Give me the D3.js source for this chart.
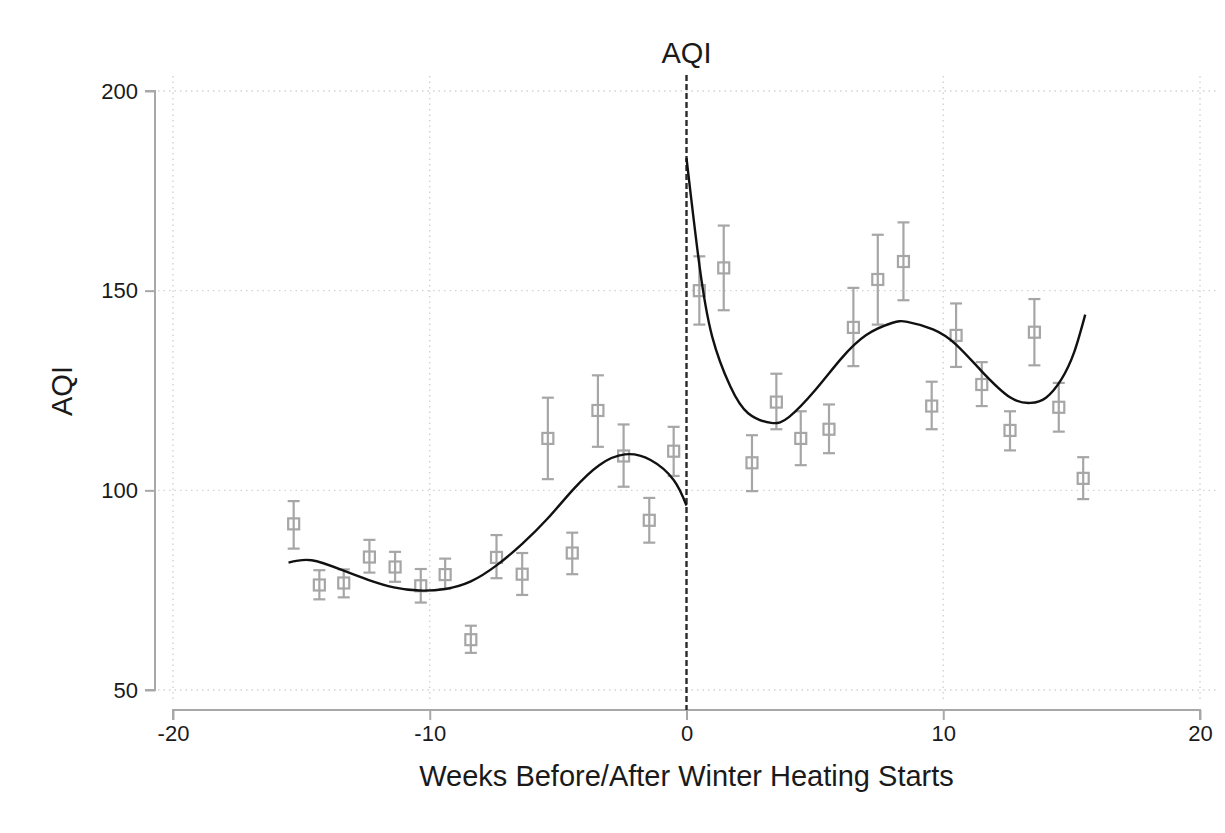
<!DOCTYPE html>
<html>
<head>
<meta charset="utf-8">
<script src="https://cdn.jsdelivr.net/npm/d3@7"></script>
<style>
  html, body { margin: 0; padding: 0; background: #fff; }
  svg { display: block; font-family: "Liberation Sans", Arial, sans-serif; }
</style>
</head>
<body>
<svg id="chart" width="1225" height="833"></svg>
<script>
// Weekly AQI means with 95% intervals, before and after heating starts
const weeksBefore = [-15.3, -14.3, -13.35, -12.35, -11.35, -10.35, -9.4, -8.4, -7.4, -6.4, -5.4, -4.45, -3.45, -2.45, -1.45, -0.5];
const aqiBefore   = [91.6, 76.3, 76.8, 83.3, 80.8, 76.1, 78.9, 62.6, 83.2, 79.0, 113.0, 84.3, 120.0, 108.6, 92.5, 109.8];
const loBefore    = [85.4, 72.7, 73.2, 79.4, 77.1, 71.9, 75.3, 59.3, 78.0, 73.8, 102.8, 79.0, 110.9, 100.9, 86.9, 103.6];
const hiBefore    = [97.3, 80.0, 80.2, 87.6, 84.6, 80.3, 82.9, 66.1, 88.8, 84.3, 123.2, 89.4, 128.8, 116.5, 98.1, 115.9];

const weeksAfter = [0.5, 1.45, 2.55, 3.5, 4.45, 5.55, 6.5, 7.45, 8.45, 9.55, 10.5, 11.5, 12.6, 13.55, 14.5, 15.45];
const aqiAfter   = [150.0, 155.7, 106.9, 122.1, 113.0, 115.3, 140.8, 152.8, 157.3, 121.1, 138.8, 126.5, 115.0, 139.6, 120.8, 103.0];
const loAfter    = [141.5, 145.1, 99.8, 115.3, 106.3, 109.3, 131.1, 141.5, 147.6, 115.3, 130.9, 121.1, 110.0, 131.3, 114.7, 97.8];
const hiAfter    = [158.6, 166.3, 113.8, 129.2, 119.8, 121.5, 150.7, 164.0, 167.1, 127.2, 146.8, 132.1, 119.8, 147.9, 126.9, 108.3];

// Fitted trend on each side of the cutoff
const fitXBefore = [-15.5, -14.6, -13.4, -12.4, -11.4, -10.4, -9.4, -8.4, -7.4, -6.4, -5.4, -4.4, -3.4, -2.4, -1.4, -0.5, 0];
const fitYBefore = [81.9, 82.5, 80.0, 77.6, 75.7, 74.9, 75.3, 77.2, 81.2, 86.6, 93.0, 100.3, 106.3, 109.0, 107.6, 102.6, 96.2];
const fitXAfter  = [0, 0.5, 1.0, 1.7, 2.4, 3.3, 4.0, 5.0, 6.0, 7.0, 8.0, 8.6, 9.6, 10.5, 11.5, 12.6, 13.4, 14.0, 14.6, 15.1, 15.53];
const fitYAfter  = [183.2, 156.5, 138.5, 126.1, 119.3, 116.9, 118.4, 125.0, 132.8, 138.9, 141.9, 142.2, 140.3, 136.5, 129.8, 123.3, 121.9, 123.2, 127.8, 134.6, 144.0];

const xTicks = [-20, -10, 0, 10, 20];
const yTicks = [50, 100, 150, 200];
const titleText = "AQI";
const xLabel = "Weeks Before/After Winter Heating Starts";
const yLabel = "AQI";

const svg = d3.select("#chart");
const x = d3.scaleLinear().domain([-20, 20]).range([173, 1200]);
const y = d3.scaleLinear().domain([50, 200]).range([690, 91]);

const gridColor = "#d2d2d2";
const axisColor = "#a8a8a8";
const markColor = "#a6a6a6";
const textColor = "#1a1a1a";
const fontFam = "Liberation Sans, Arial, sans-serif";

// Dotted grid spanning the padded plot region
const grid = svg.append("g");
grid.selectAll("line.h").data(yTicks).join("line")
  .attr("x1", 158).attr("x2", 1216)
  .attr("y1", d => y(d)).attr("y2", d => y(d))
  .attr("stroke", gridColor).attr("stroke-width", 1.4)
  .attr("stroke-dasharray", "1.5 4");
grid.selectAll("line.v").data(xTicks.filter(d => d !== 0)).join("line")
  .attr("x1", d => x(d)).attr("x2", d => x(d))
  .attr("y1", 76).attr("y2", 702)
  .attr("stroke", gridColor).attr("stroke-width", 1.4)
  .attr("stroke-dasharray", "1.5 4");

// Y axis
const yAxis = d3.axisLeft(y).tickValues(yTicks).tickSize(10).tickPadding(7).tickFormat(d => String(d));
const gy = svg.append("g").attr("transform", "translate(155,0)").call(yAxis);
gy.select(".domain").attr("stroke", axisColor).attr("stroke-width", 2)
  .attr("d", `M-10,${y(200)}H0V${y(50)}H-10`);
gy.selectAll(".tick line").attr("stroke", axisColor).attr("stroke-width", 2);
gy.selectAll(".tick text").attr("font-size", 22).attr("fill", textColor)
  .attr("font-family", fontFam);

// X axis
const xAxis = d3.axisBottom(x).tickValues(xTicks).tickSize(10).tickPadding(5).tickFormat(d => String(d));
const gx = svg.append("g").attr("transform", "translate(0,710)").call(xAxis);
gx.select(".domain").attr("stroke", axisColor).attr("stroke-width", 2)
  .attr("d", `M${x(-20)},10V0H${x(20)}V10`);
gx.selectAll(".tick line").attr("stroke", axisColor).attr("stroke-width", 2);
gx.selectAll(".tick text").attr("font-size", 22).attr("fill", textColor)
  .attr("font-family", fontFam);

// Cutoff line at week 0
svg.append("line")
  .attr("x1", x(0)).attr("x2", x(0))
  .attr("y1", 75).attr("y2", 710)
  .attr("stroke", "#2a2a2a").attr("stroke-width", 2.4)
  .attr("stroke-dasharray", "6 3");

// Error bars and square markers
function drawSeries(xs, ys, lo, hi) {
  const rows = xs.map((d, i) => ({ w: d, v: ys[i], lo: lo[i], hi: hi[i] }));
  const g = svg.append("g").attr("stroke", markColor).attr("fill", "none").attr("stroke-width", 2.2);
  const capHalf = 6;
  g.selectAll("line.bar").data(rows).join("line")
    .attr("x1", d => x(d.w)).attr("x2", d => x(d.w))
    .attr("y1", d => y(d.hi)).attr("y2", d => y(d.lo));
  g.selectAll("line.top").data(rows).join("line")
    .attr("x1", d => x(d.w) - capHalf).attr("x2", d => x(d.w) + capHalf)
    .attr("y1", d => y(d.hi)).attr("y2", d => y(d.hi));
  g.selectAll("line.bot").data(rows).join("line")
    .attr("x1", d => x(d.w) - capHalf).attr("x2", d => x(d.w) + capHalf)
    .attr("y1", d => y(d.lo)).attr("y2", d => y(d.lo));
  const s = 11;
  g.selectAll("rect").data(rows).join("rect")
    .attr("x", d => x(d.w) - s / 2).attr("y", d => y(d.v) - s / 2)
    .attr("width", s).attr("height", s)
    .attr("fill", "none");
}
drawSeries(weeksBefore, aqiBefore, loBefore, hiBefore);
drawSeries(weeksAfter, aqiAfter, loAfter, hiAfter);

// Fitted curves
const line = d3.line().x(d => x(d[0])).y(d => y(d[1])).curve(d3.curveNatural);
[[fitXBefore, fitYBefore], [fitXAfter, fitYAfter]].forEach(([xs, ys]) => {
  svg.append("path")
    .datum(xs.map((d, i) => [d, ys[i]]))
    .attr("d", line)
    .attr("fill", "none").attr("stroke", "#111").attr("stroke-width", 2.4);
});

// Titles
svg.append("text").attr("x", x(0)).attr("y", 63).attr("text-anchor", "middle")
  .attr("font-size", 29).attr("fill", textColor).text(titleText);
svg.append("text").attr("x", x(0)).attr("y", 786).attr("text-anchor", "middle")
  .attr("font-size", 29).attr("fill", textColor).text(xLabel);
svg.append("text").attr("transform", "translate(72,391) rotate(-90)").attr("text-anchor", "middle")
  .attr("font-size", 29).attr("fill", textColor).text(yLabel);
</script>
</body>
</html>
